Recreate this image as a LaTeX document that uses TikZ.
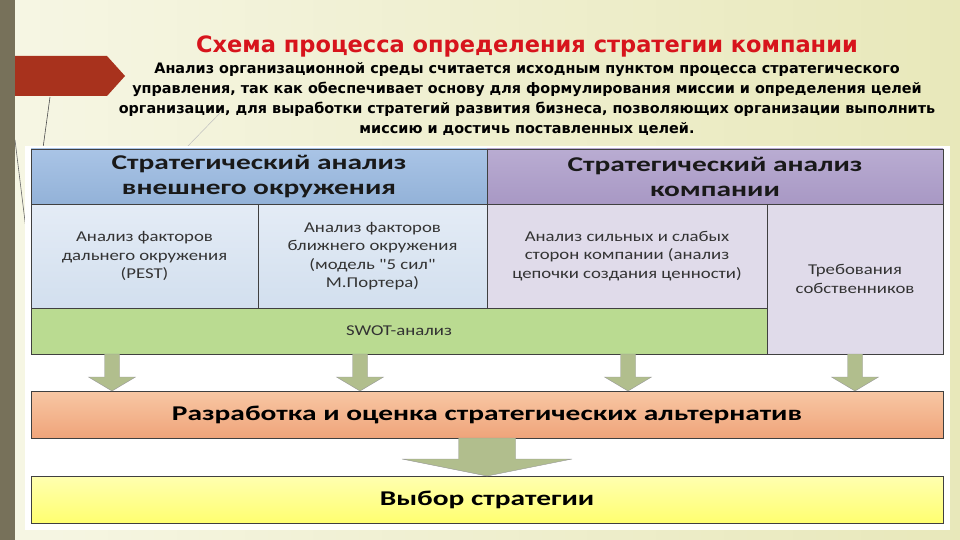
\documentclass[tikz,border=0pt]{standalone}
\usepackage{fontspec}
\setmainfont{DejaVu Sans}
\newfontfamily\cellfont[FakeStretch=1.25]{Carlito}
\newfontfamily\hdrfont[FakeStretch=1.4]{Carlito}
\usetikzlibrary{positioning, calc}

\definecolor{barolive}{HTML}{77715A}
\definecolor{flagred}{HTML}{A8321D}
\definecolor{titlered}{HTML}{D7141C}
\definecolor{hdrblue}{HTML}{93B2D8}
\definecolor{hdrbluetop}{HTML}{A9C4E6}
\definecolor{cellblue}{HTML}{D2DFEE}
\definecolor{cellbluetop}{HTML}{E4ECF6}
\definecolor{hdrpurple}{HTML}{A898C4}
\definecolor{hdrpurpletop}{HTML}{B9ACD2}
\definecolor{cellpurple}{HTML}{E0DBEA}
\definecolor{swotgreen}{HTML}{BADB91}
\definecolor{altorange}{HTML}{EFA47A}
\definecolor{altorangetop}{HTML}{F8C7A4}
\definecolor{choiceyellow}{HTML}{FFFF70}
\definecolor{choiceyellowtop}{HTML}{FFFFB0}
\definecolor{arrgreen}{HTML}{B1BE8D}

\begin{document}
\begin{tikzpicture}[
    x=1pt, y=-1pt,
    cell/.style={draw=black!75, line width=0.8pt, inner sep=0pt,
                 outer sep=0pt, align=center, text=black!80,
                 font=\cellfont\fontsize{15}{18.5}\selectfont},
    hdr/.style={cell, minimum width=456, minimum height=55, text=black!90,
                font=\hdrfont\bfseries\fontsize{21}{25}\selectfont},
    band/.style={cell, minimum width=912, minimum height=47, text=black,
                 font=\hdrfont\bfseries\fontsize{21}{24}\selectfont},
    blkarr/.style={fill=arrgreen, draw=black!40, line width=0.4pt}
  ]
  \useasboundingbox (0,0) rectangle (960,540);

  % background of the slide
  \shade[left color=white!93!olive, right color=olive!18!white]
    (0,0) rectangle (960,540);
  \fill[barolive] (0,0) rectangle (15,540);
  \fill[flagred] (15,56) -- (107,56) -- (125,76) -- (107,96) -- (15,96) -- cycle;
  \draw[black!70, line width=0.6pt] (50,97) -- (43,148);
  \draw[black!25, line width=0.5pt] (220,113) -- (187,147);
  \draw[black!60, line width=0.6pt] (15,140) -- (30,262);
  \fill[white] (25,146) rectangle (950,530);

  % heading
  \node[font=\bfseries\fontsize{22.5}{26}\selectfont, text=titlered]
    (title) at (527,46) {Схема процесса определения стратегии компании};
  \node[font=\bfseries\fontsize{14.4}{20}\selectfont, align=center]
    (intro) at (527,98.5)
    {Анализ организационной среды считается исходным пунктом процесса стратегического\\
     управления, так как обеспечивает основу для формулирования миссии и определения целей\\
     организации, для выработки стратегий развития бизнеса, позволяющих организации выполнить\\
     миссию и достичь поставленных целей.};

  % table of analyses
  \node[hdr, top color=hdrbluetop, bottom color=hdrblue]
    (extern) at (259,176.5) {Стратегический анализ\\внешнего окружения};
  \node[hdr, top color=hdrpurpletop, bottom color=hdrpurple]
    (intern) at (715,176.5) {Стратегический анализ\\компании};
  \node[cell, top color=cellbluetop, bottom color=cellblue,
        minimum width=227, minimum height=104]
    (pest) at (144.5,256) {Анализ факторов\\дальнего окружения\\(PEST)};
  \node[cell, top color=cellbluetop, bottom color=cellblue,
        minimum width=229, minimum height=104]
    (porter) at (372.5,256)
    {Анализ факторов\\ближнего окружения\\(модель "5 сил"\\М.Портера)};
  \node[cell, fill=cellpurple, minimum width=280, minimum height=104]
    (strength) at (627,256)
    {Анализ сильных и слабых\\сторон компании (анализ\\цепочки создания ценности)};
  \node[cell, fill=cellpurple, minimum width=176, minimum height=150]
    (owners) at (855,279) {Требования\\собственников};
  \node[cell, fill=swotgreen, minimum width=736, minimum height=46]
    (swot) at (399,331) {SWOT-анализ};

  % lower blocks
  \node[band, top color=altorangetop, bottom color=altorange]
    (alt) at (487,414.5) {Разработка и оценка стратегических альтернатив};
  \node[band, top color=choiceyellowtop, bottom color=choiceyellow]
    (choice) at (487,499.5) {Выбор стратегии};

  % block arrows
  \foreach \x/\src in {112/swot, 360/swot, 628/swot, 855/owners} {
    \path (\x,0 |- \src.south) coordinate (p) (\x,0 |- alt.north) coordinate (q);
    \draw[blkarr] ([xshift=-7.5pt]p) -- ([xshift=-7.5pt,yshift=14pt]q)
      -- ([xshift=-23.5pt,yshift=14pt]q) -- (q)
      -- ([xshift=23.5pt,yshift=14pt]q) -- ([xshift=7.5pt,yshift=14pt]q)
      -- ([xshift=7.5pt]p) -- cycle;
  }
  \path (alt.south) coordinate (p) (choice.north) coordinate (q);
  \draw[blkarr] ([xshift=-28.5pt]p) -- ([xshift=-28.5pt,yshift=17pt]q)
    -- ([xshift=-85pt,yshift=17pt]q) -- (q)
    -- ([xshift=85pt,yshift=17pt]q) -- ([xshift=28.5pt,yshift=17pt]q)
    -- ([xshift=28.5pt]p) -- cycle;
\end{tikzpicture}
\end{document}
